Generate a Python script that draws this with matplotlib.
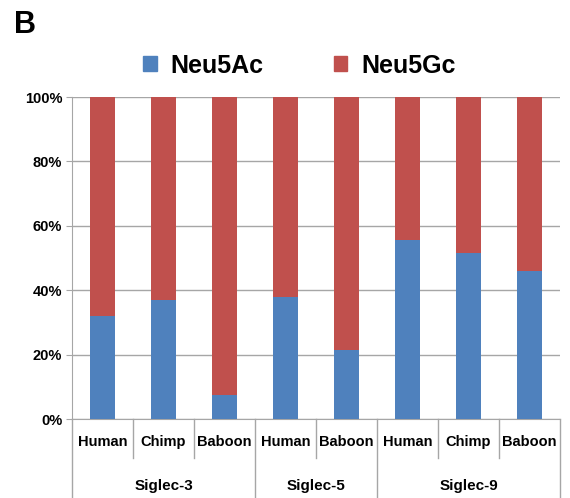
import matplotlib
matplotlib.use("Agg")
import matplotlib.pyplot as plt
import numpy as np
from matplotlib.patches import Patch

plt.rcParams['font.family'] = ['Liberation Sans', 'DejaVu Sans']
plt.rcParams['font.weight'] = 'bold'

species = ["Human", "Chimp", "Baboon", "Human", "Baboon", "Human", "Chimp", "Baboon"]
groups = ["Siglec-3", "Siglec-5", "Siglec-9"]
group_sizes = [3, 2, 3]
neu5ac = [32, 37, 7.5, 38, 21.5, 55.5, 51.5, 46]
neu5gc = [100 - v for v in neu5ac]

blue = "#4F81BD"
red = "#C0504D"
grid_col = "#A6A6A6"

fig = plt.figure(figsize=(5.7, 4.98), dpi=100)
ax = fig.add_axes([0.1263, 0.1586, 0.8562, 0.6466])

x = np.arange(len(species))
ax.bar(x, neu5ac, width=0.4, color=blue, zorder=3)
ax.bar(x, neu5gc, width=0.4, bottom=neu5ac, color=red, zorder=3)

ax.set_xlim(-0.5, len(species) - 0.5)
ax.set_ylim(0, 100)
ax.set_yticks(np.arange(0, 101, 20))
ax.set_yticklabels([f"{v}%" for v in range(0, 101, 20)], fontsize=10.5, fontweight='bold')
ax.yaxis.grid(True, color=grid_col, lw=1, zorder=0)
ax.tick_params(axis='y', length=4, color=grid_col, pad=3)
ax.set_xticks([])
for s in ["top", "right"]:
    ax.spines[s].set_visible(False)
ax.spines["left"].set_color(grid_col)
ax.spines["bottom"].set_color(grid_col)

# category labels and separators
trans = ax.get_xaxis_transform()
for i, name in enumerate(species):
    ax.text(i, -0.072, name, transform=trans, ha='center', va='center',
            fontsize=10.5, fontweight='bold')
bounds = np.cumsum([0] + group_sizes) - 0.5
for i in range(len(species) + 1):
    xb = i - 0.5
    if xb in bounds:
        ax.plot([xb, xb], [0, -0.245], transform=trans, color=grid_col, lw=1, clip_on=False)
    else:
        ax.plot([xb, xb], [0, -0.12], transform=trans, color=grid_col, lw=1, clip_on=False)
for g, a, b in zip(groups, bounds[:-1], bounds[1:]):
    ax.text((a + b) / 2, -0.207, g, transform=trans, ha='center', va='center',
            fontsize=11, fontweight='bold')

handles = [Patch(color=blue, label="Neu5Ac"), Patch(color=red, label="Neu5Gc")]
fig.legend(handles=handles, loc='center', bbox_to_anchor=(0.525, 0.868), ncol=2,
           frameon=False, prop={'size': 18, 'weight': 'bold'},
           handlelength=0.55, handleheight=0.55, handletextpad=0.55, columnspacing=2.8)

fig.text(0.025, 0.95, "B", fontsize=22, fontweight='bold', va='center', ha='left')

fig.savefig("out.png", dpi=100)
